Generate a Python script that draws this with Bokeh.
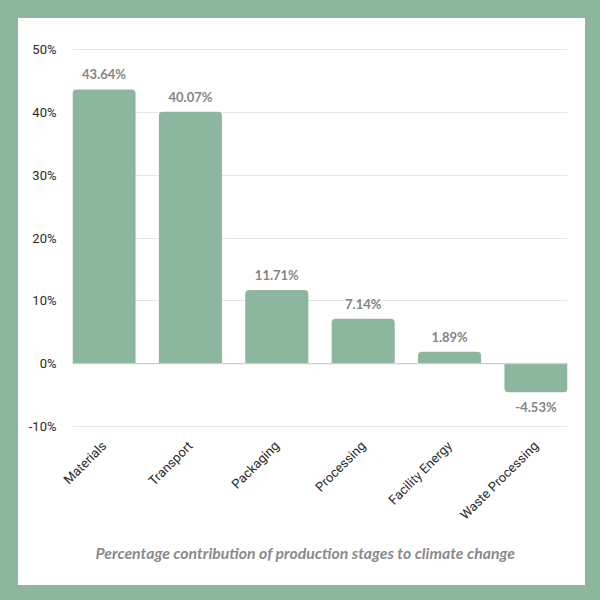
from math import pi

from bokeh.plotting import figure
from bokeh.models import (ColumnDataSource, FixedTicker, PrintfTickFormatter,
                          Span, Title, Column)
from bokeh.core.properties import value
from bokeh.embed import file_html
from bokeh.resources import INLINE

# --- data -------------------------------------------------------------
categories = ["Materials", "Transport", "Packaging", "Processing",
              "Facility Energy", "Waste Processing"]
shares = [43.64, 40.07, 11.71, 7.14, 1.89, -4.53]
y_ticks = [-10, 0, 10, 20, 30, 40, 50]
chart_title = "Percentage contribution of production stages to climate change"

GREEN = "#8db69f"
BAR_W = 0.73

pos = list(range(len(categories)))
labels = [f"{v:.2f}%" for v in shares]

up = ColumnDataSource(dict(
    x=[p for p, v in zip(pos, shares) if v >= 0],
    v=[v for v in shares if v >= 0],
    t=[l for l, v in zip(labels, shares) if v >= 0],
))
down = ColumnDataSource(dict(
    x=[p for p, v in zip(pos, shares) if v < 0],
    v=[v for v in shares if v < 0],
    t=[l for l, v in zip(labels, shares) if v < 0],
))

p = figure(width=567, height=567, output_backend="svg", toolbar_location=None,
           x_range=(-BAR_W / 2, len(categories) - 1 + BAR_W / 2),
           y_range=(-10.15, 50.15),
           min_border_left=54, min_border_right=18,
           min_border_top=30, min_border_bottom=158,
           outline_line_color=None)
p.border_fill_color = "white"
p.background_fill_color = "white"

# bars: rounded on the outer end only
p.vbar(x="x", top="v", bottom=0, width=BAR_W, source=up,
       fill_color=GREEN, line_color=None, border_radius=(4, 4, 0, 0))
p.vbar(x="x", top=0, bottom="v", width=BAR_W, source=down,
       fill_color=GREEN, line_color=None, border_radius=(0, 0, 4, 4))

# value labels
lbl_kw = dict(text="t", text_align="center", text_baseline="middle",
              text_font=value("Lato"), text_font_style="bold",
              text_font_size="13px", text_color="#858585")
p.text(x="x", y="v", y_offset=-15, source=up, **lbl_kw)
p.text(x="x", y="v", y_offset=15, source=down, **lbl_kw)

# zero baseline
p.add_layout(Span(location=0, dimension="width", line_color="#cfcfcf",
                  line_width=1.2))

# axes
p.yaxis.ticker = FixedTicker(ticks=y_ticks)
p.yaxis.formatter = PrintfTickFormatter(format="%d%%")
p.xaxis.ticker = FixedTicker(ticks=pos)
p.xaxis.major_label_overrides = {i: c for i, c in zip(pos, categories)}
p.xaxis.major_label_orientation = pi / 4
for ax in (p.xaxis, p.yaxis):
    ax.axis_line_color = None
    ax.major_tick_line_color = None
    ax.minor_tick_line_color = None
    ax.major_label_text_font = "Roboto"
    ax.major_label_text_font_size = "13px"
    ax.major_label_text_color = "#2a2a2a"
p.yaxis.major_label_standoff = 10
p.xaxis.major_label_standoff = 10

p.xgrid.grid_line_color = None
p.ygrid.ticker = FixedTicker(ticks=y_ticks)
p.ygrid.grid_line_color = "#e6e6e6"
p.ygrid.grid_line_width = 1.2

# caption under the chart
p.add_layout(Title(text=chart_title, align="left", offset=23, standoff=20,
                   text_font="Lato", text_font_style="bold italic",
                   text_font_size="15.8px", text_color="#8a8a8a"), "below")

# white card inside a green frame
page = Column(children=[p], width=600, height=600,
              styles={"background-color": "white",
                      "border-style": "solid",
                      "border-color": GREEN,
                      "border-width": "18px 15px 15px 18px",
                      "box-sizing": "border-box"})

open("out.html", "w").write(file_html(page, INLINE))
